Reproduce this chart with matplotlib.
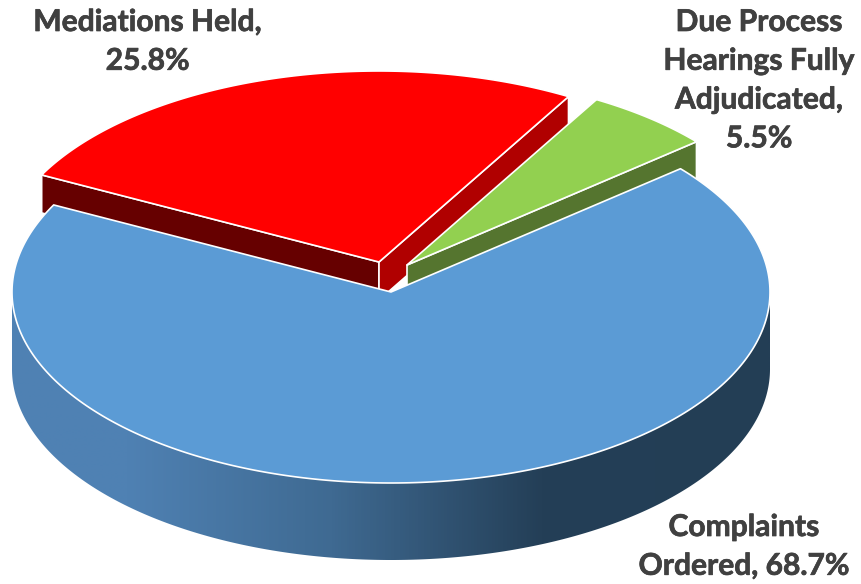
import numpy as np
import matplotlib
matplotlib.use("Agg")
import matplotlib.pyplot as plt
import matplotlib.patheffects as pe
from matplotlib.patches import Polygon
from matplotlib.colors import LinearSegmentedColormap

# Data
categories = ["Due Process Hearings Fully Adjudicated", "Mediations Held", "Complaints Ordered"]
values = [5.5, 25.8, 68.7]
label_lines = [
    ["Due Process", "Hearings Fully", "Adjudicated,", "5.5%"],
    ["Mediations Held,", "25.8%"],
    ["Complaints", "Ordered, 68.7%"],
]

# Style / layout
W, H = 861, 584
RX, RY = 379, 191
START = 40.2
centers = [(407, 265), (379, 262), (391, 292)]
depths = [38, 38, 77]
top_cols = ["#92D050", "#FF0000", "#5B9BD5"]
label_pos = [(759, 31), (147.5, 31), (744, 536)]
LINE = 38.8
TXT = "#404040"

fig = plt.figure(figsize=(W / 100, H / 100), dpi=100)
ax = fig.add_axes([0, 0, 1, 1])
ax.set_xlim(0, W)
ax.set_ylim(H, 0)
ax.axis("off")

angles = np.cumsum([START] + [v * 3.6 for v in values])


def pt(c, t, dz=0):
    t = np.radians(t)
    return np.column_stack([c[0] + RX * np.cos(t), c[1] - RY * np.sin(t) + dz])


def wedge(c, a, b):
    ts = np.linspace(a, b, 300)
    return np.vstack([[c], pt(c, ts)])


def quad(c, t, dz):
    p = pt(c, t)[0]
    return [c, p, p + [0, dz], (c[0], c[1] + dz)]


edge = dict(edgecolor="white", linewidth=1.2, joinstyle="round")
z = 1


def add(poly, color, **kw):
    global z
    ax.add_patch(Polygon(poly, closed=True, facecolor=color, zorder=z, **(kw or edge)))
    z += 1


# exploded red slice: front-left and front-right cut faces
add(quad(centers[1], angles[2], depths[1]), "#660000")
add(quad(centers[1], angles[1], depths[1]), "#B00000")
# green slice: cut face and top
add(quad(centers[0], angles[0], depths[0]), "#55752F")
add(wedge(centers[0], angles[0], angles[1]), top_cols[0])
# red top
add(wedge(centers[1], angles[1], angles[2]), top_cols[1])

# blue slice outer wall with horizontal gradient
c = centers[2]
ts = np.linspace(180, 360, 400)
upper = pt(c, ts)
lower = pt(c, ts, depths[2])[::-1]
wall = Polygon(np.vstack([upper, lower]), closed=True, facecolor="none", edgecolor="none", zorder=z)
ax.add_patch(wall)
cmap = LinearSegmentedColormap.from_list(
    "wall",
    [(0.0, "#4F81B3"), (0.15, "#4F81B3"), (0.42, "#3F6A92"), (0.70, "#243F57"), (1.0, "#233E55")],
)
img = ax.imshow(
    np.linspace(0, 1, 760)[None, :],
    cmap=cmap,
    extent=(c[0] - RX, c[0] + RX, c[1] + RY + depths[2] + 2, c[1] - 2),
    aspect="auto",
    zorder=z,
    interpolation="bilinear",
)
img.set_clip_path(wall)
z += 1
ax.set_xlim(0, W)
ax.set_ylim(H, 0)

# blue top
add(wedge(c, angles[2], angles[3]), top_cols[2])

# labels
for lines, (x, y) in zip(label_lines, label_pos):
    for i, line in enumerate(lines):
        ax.text(x, y + i * LINE, line, ha="center", va="baseline", fontsize=21.6,
                fontweight="bold", family="Lato", color=TXT, zorder=50,
                path_effects=[pe.withStroke(linewidth=0.5, foreground=TXT)])

fig.savefig("out.png", dpi=100, facecolor="white")
